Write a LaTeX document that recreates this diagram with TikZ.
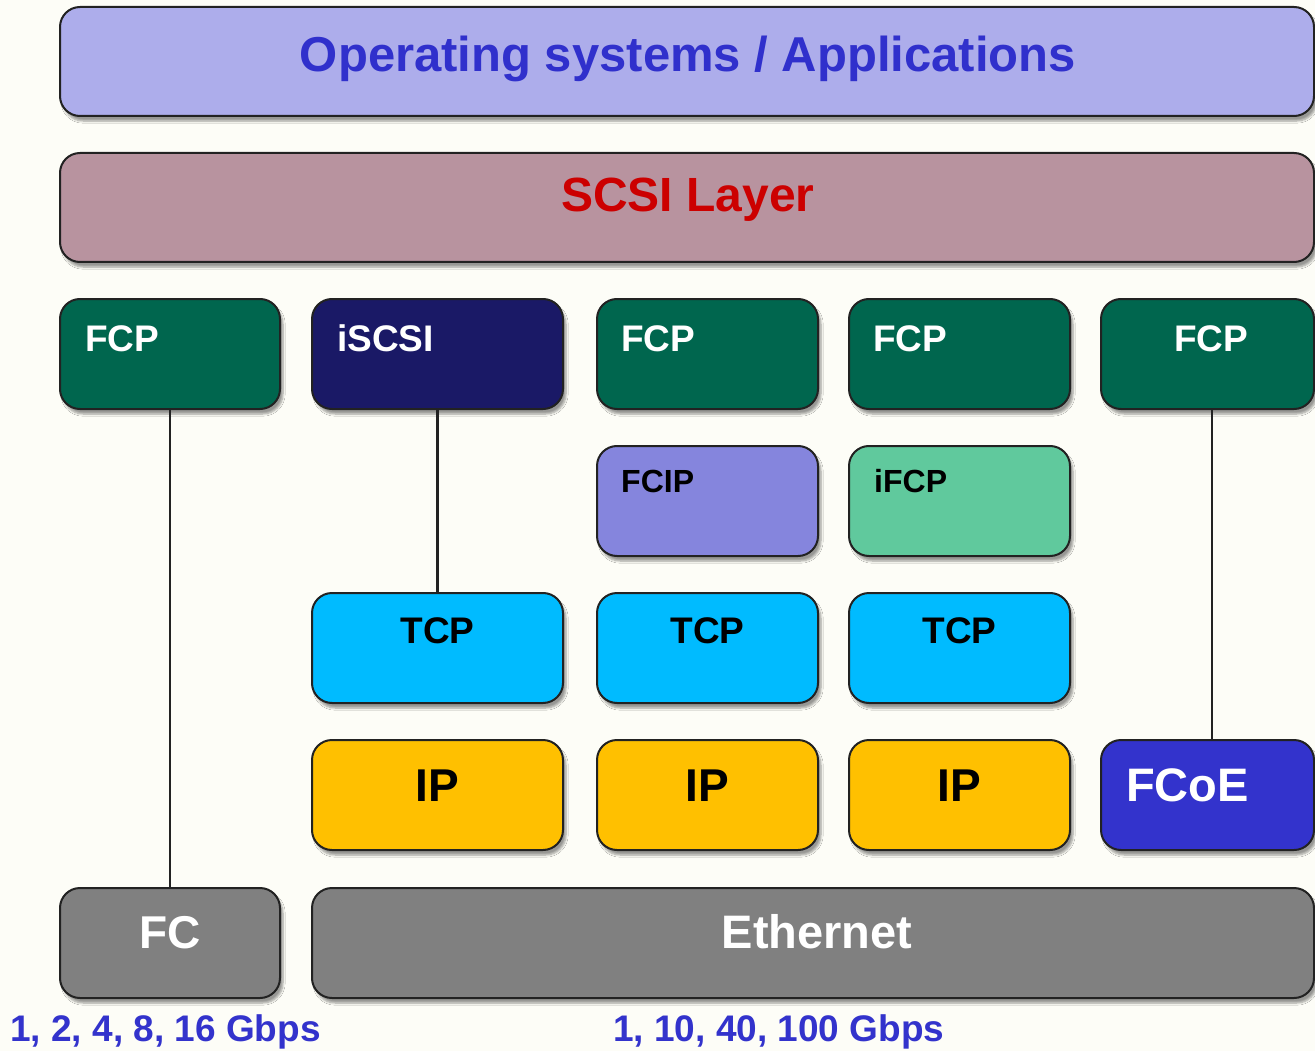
\documentclass[tikz,border=0pt]{standalone}
\usepackage{fontspec}
\setmainfont{Liberation Sans}
\usetikzlibrary{shadows.blur}
\definecolor{bgc}{HTML}{FDFDF7}
\definecolor{osfill}{HTML}{ADADEB}
\definecolor{ostext}{HTML}{3030CC}
\definecolor{scsifill}{HTML}{B8939F}
\definecolor{scsitext}{HTML}{CC0000}
\definecolor{fcpfill}{HTML}{00664E}
\definecolor{iscsifill}{HTML}{1A1966}
\definecolor{fcipfill}{HTML}{8585DD}
\definecolor{ifcpfill}{HTML}{60C99D}
\definecolor{tcpfill}{HTML}{00BBFF}
\definecolor{ipfill}{HTML}{FFC000}
\definecolor{fcoefill}{HTML}{3333CC}
\definecolor{grayfill}{HTML}{808080}
\definecolor{edgec}{HTML}{222222}
\definecolor{ratec}{HTML}{3333CC}
\tikzset{
  layerbox/.style={draw=edgec, line width=2pt, rounded corners=20pt,
    blur shadow={shadow xshift=3pt, shadow yshift=-5pt, shadow blur steps=6, shadow opacity=40}},
  lbl/.style={font=\bfseries\fontsize{#1}{#1}\selectfont, inner sep=0pt},
  conn/.style={draw=edgec, line width=2.2pt}
}
\newcommand{\boxat}[6]{% name, x1, y1, x2, y2, fill
  \path[layerbox, fill=#6] (#2,#3) rectangle (#4,#5);
  \node[inner sep=0pt, minimum width={(#4-#2)*1pt}, minimum height={(#5-#3)*1pt}] (#1) at ({(#2+#4)/2},{(#3+#5)/2}) {};
}
\begin{document}
\begin{tikzpicture}[x=1pt, y=-1pt]
\fill[bgc] (0,0) rectangle (1315,1051);
\useasboundingbox (0,0) rectangle (1315,1051);

\boxat{os}{60}{7}{1314}{116}{osfill}
\boxat{scsi}{60}{153}{1314}{262}{scsifill}

\coordinate (lineA) at (170,0);
\coordinate (lineE) at (1212,0);

\boxat{fcpA}{60}{299}{280}{409}{fcpfill}
\boxat{iscsi}{312}{299}{563}{409}{iscsifill}
\boxat{fcpC}{597}{299}{818}{409}{fcpfill}
\boxat{fcpD}{849}{299}{1070}{409}{fcpfill}
\boxat{fcpE}{1101}{299}{1314}{409}{fcpfill}

\boxat{fcip}{597}{446}{818}{556}{fcipfill}
\boxat{ifcp}{849}{446}{1070}{556}{ifcpfill}

\boxat{tcpB}{312}{593}{563}{703}{tcpfill}
\boxat{tcpC}{597}{593}{818}{703}{tcpfill}
\boxat{tcpD}{849}{593}{1070}{703}{tcpfill}

\boxat{ipB}{312}{740}{563}{850}{ipfill}
\boxat{ipC}{597}{740}{818}{850}{ipfill}
\boxat{ipD}{849}{740}{1070}{850}{ipfill}
\boxat{fcoe}{1101}{740}{1314}{850}{fcoefill}

\boxat{fc}{60}{888}{280}{998}{grayfill}
\boxat{eth}{312}{888}{1314}{998}{grayfill}

% connectors
\draw[conn] (fcpA.south -| lineA) -- (fc.north -| lineA);
\draw[conn] (iscsi.south) -- (tcpB.north);
\draw[conn] (fcpE.south -| lineE) -- (fcoe.north -| lineE);

% texts
\node[lbl=49, text=ostext, anchor=base] (tos) at (688,72) {Operating systems / Applications};
\node[lbl=48, text=scsitext, anchor=base] (tscsi) at (688,212) {SCSI Layer};

\node[lbl=37, text=white, anchor=base west] (tfcpA) at (85,351) {FCP};
\node[lbl=37, text=white, anchor=base west] (tiscsi) at (337,351) {iSCSI};
\node[lbl=37, text=white, anchor=base west] (tfcpC) at (621,351) {FCP};
\node[lbl=37, text=white, anchor=base west] (tfcpD) at (873,351) {FCP};
\node[lbl=37, text=white, anchor=base] (tfcpE) at (1211,351) {FCP};

\node[lbl=32, text=black, anchor=base west] (tfcip) at (621,492) {FCIP};
\node[lbl=32, text=black, anchor=base west] (tifcp) at (874,492) {iFCP};

\node[lbl=37, text=black, anchor=base] (ttcpB) at (437.5,643) {TCP};
\node[lbl=37, text=black, anchor=base] (ttcpC) at (707.5,643) {TCP};
\node[lbl=37, text=black, anchor=base] (ttcpD) at (959.5,643) {TCP};

\node[lbl=46, text=black, anchor=base] (tipB) at (437.5,801) {IP};
\node[lbl=46, text=black, anchor=base] (tipC) at (707.5,801) {IP};
\node[lbl=46, text=black, anchor=base] (tipD) at (959.5,801) {IP};
\node[lbl=47, text=white, anchor=base west] (tfcoe) at (1126,801) {FCoE};

\node[lbl=46, text=white, anchor=base] (tfc) at (170,948) {FC};
\node[lbl=47, text=white, anchor=base] (teth) at (817,948) {Ethernet};

\node[lbl=37, text=ratec, anchor=base west] (rateA) at (10,1041) {1, 2, 4, 8, 16 Gbps};
\node[lbl=37, text=ratec, anchor=base west] (rateB) at (613,1041) {1, 10, 40, 100 Gbps};
\end{tikzpicture}
\end{document}
